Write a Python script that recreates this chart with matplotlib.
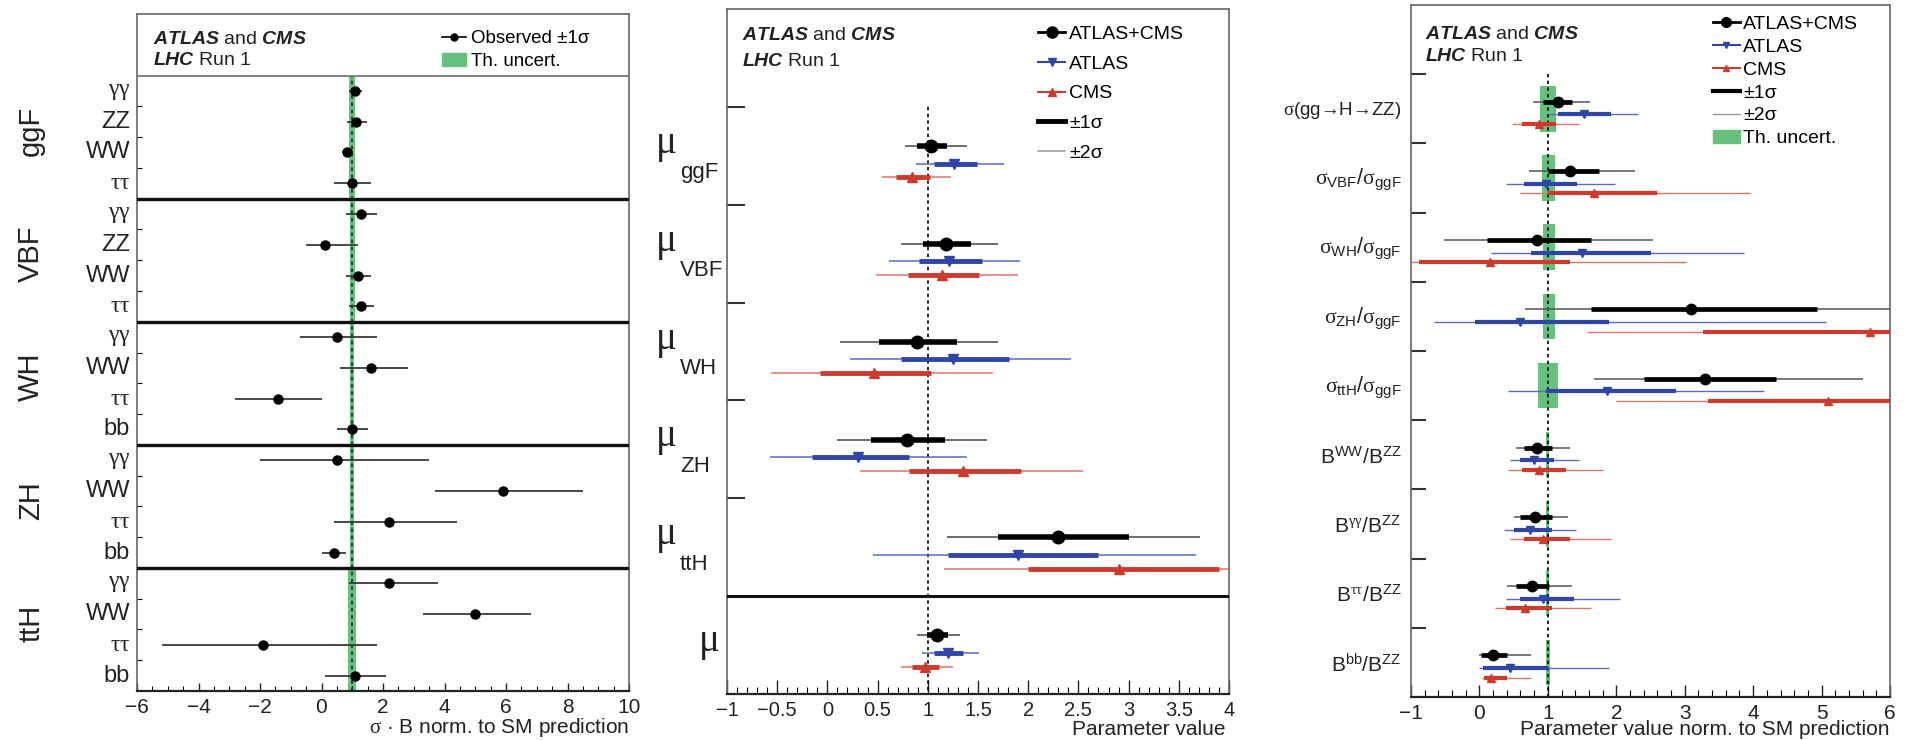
import numpy as np
import matplotlib
matplotlib.use("Agg")
import matplotlib.pyplot as plt
from matplotlib.ticker import MultipleLocator, FuncFormatter, FixedLocator
from matplotlib.lines import Line2D
from matplotlib.patches import Patch

plt.rcParams['font.family'] = ['Liberation Sans', 'DejaVu Sans']
plt.rcParams['mathtext.fontset'] = 'custom'
plt.rcParams['mathtext.rm'] = 'Liberation Serif'
plt.rcParams['mathtext.sf'] = 'Liberation Sans'
plt.rcParams['mathtext.it'] = 'Liberation Sans:italic'
plt.rcParams['mathtext.bf'] = 'Liberation Sans:bold'
plt.rcParams['mathtext.bfit'] = 'Liberation Sans:italic:bold'
plt.rcParams['mathtext.default'] = 'sf'

# ---- left panel: sigma x B per production mode and decay ----
prod_groups = ['ggF', 'VBF', 'WH', 'ZH', 'ttH']
decays = [r'$\mathrm{\gamma\gamma}$', 'ZZ', 'WW', r'$\mathrm{\tau\tau}$',
          r'$\mathrm{\gamma\gamma}$', 'ZZ', 'WW', r'$\mathrm{\tau\tau}$',
          r'$\mathrm{\gamma\gamma}$', 'WW', r'$\mathrm{\tau\tau}$', 'bb',
          r'$\mathrm{\gamma\gamma}$', 'WW', r'$\mathrm{\tau\tau}$', 'bb',
          r'$\mathrm{\gamma\gamma}$', 'WW', r'$\mathrm{\tau\tau}$', 'bb']
obs = [1.10, 1.13, 0.84, 1.0, 1.3, 0.1, 1.2, 1.3, 0.5, 1.6,
       -1.4, 1.0, 0.5, 5.9, 2.2, 0.4, 2.2, 5.0, -1.9, 1.1]
obs_up = [0.23, 0.34, 0.17, 0.6, 0.5, 1.1, 0.4, 0.4, 1.3, 1.2,
          1.4, 0.5, 3.0, 2.6, 2.2, 0.4, 1.6, 1.8, 3.7, 1.0]
obs_dn = [0.22, 0.31, 0.17, 0.6, 0.5, 0.6, 0.4, 0.4, 1.2, 1.0,
          1.4, 0.5, 2.5, 2.2, 1.8, 0.4, 1.3, 1.7, 3.3, 1.0]
th_half = [0.10, 0.09, 0.09, 0.10, 0.08, 0.08, 0.08, 0.08, 0.06, 0.06,
           0.06, 0.06, 0.07, 0.07, 0.07, 0.07, 0.13, 0.13, 0.13, 0.13]

# ---- middle panel: signal strengths ----
mu_names = ['ggF', 'VBF', 'WH', 'ZH', 'ttH', '']
comb_mu = [1.03, 1.18, 0.89, 0.79, 2.3, 1.09]
comb_1s = [(0.89, 1.19), (0.95, 1.43), (0.51, 1.29), (0.43, 1.17), (1.7, 3.0), (0.99, 1.20)]
comb_2s = [(0.77, 1.39), (0.73, 1.70), (0.13, 1.70), (0.10, 1.59), (1.19, 3.71), (0.89, 1.32)]
atlas_mu = [1.26, 1.21, 1.25, 0.30, 1.9, 1.20]
atlas_1s = [(1.06, 1.49), (0.91, 1.54), (0.73, 1.81), (-0.15, 0.81), (1.2, 2.7), (1.06, 1.35)]
atlas_2s = [(0.88, 1.76), (0.61, 1.92), (0.23, 2.43), (-0.57, 1.39), (0.45, 3.67), (0.94, 1.51)]
cms_mu = [0.84, 1.14, 0.46, 1.35, 2.9, 0.97]
cms_1s = [(0.68, 1.02), (0.80, 1.51), (-0.07, 1.03), (0.81, 1.93), (2.0, 3.9), (0.84, 1.11)]
cms_2s = [(0.54, 1.23), (0.48, 1.90), (-0.56, 1.65), (0.32, 2.55), (1.16, 4.9), (0.73, 1.25)]

# ---- right panel: ratios ----
ratio_labels = [r'$\mathrm{\sigma}$(gg→H→ZZ)',
                r'$\mathrm{\sigma}_{VBF}/\mathrm{\sigma}_{ggF}$',
                r'$\mathrm{\sigma}_{WH}/\mathrm{\sigma}_{ggF}$',
                r'$\mathrm{\sigma}_{ZH}/\mathrm{\sigma}_{ggF}$',
                r'$\mathrm{\sigma}_{ttH}/\mathrm{\sigma}_{ggF}$',
                r'$B^{WW}/B^{ZZ}$',
                r'$B^{\mathrm{\gamma\gamma}}/B^{ZZ}$',
                r'$B^{\mathrm{\tau\tau}}/B^{ZZ}$',
                r'$B^{bb}/B^{ZZ}$']
r_comb = [1.15, 1.32, 0.84, 3.09, 3.29, 0.84, 0.81, 0.77, 0.20]
r_comb_1s = [(0.93, 1.36), (1.0, 1.75), (0.11, 1.63), (1.63, 4.94), (2.41, 4.33),
             (0.65, 1.06), (0.59, 1.06), (0.53, 1.02), (0.02, 0.41)]
r_comb_2s = [(0.78, 1.62), (0.72, 2.28), (-0.52, 2.54), (0.66, 6.6), (1.68, 5.60),
             (0.53, 1.32), (0.50, 1.30), (0.41, 1.35), (0.0, 0.75)]
r_atlas = [1.53, 0.97, 1.50, 0.60, 1.87, 0.80, 0.74, 0.93, 0.45]
r_atlas_1s = [(1.15, 1.92), (0.65, 1.42), (0.75, 2.50), (-0.07, 1.90), (0.97, 2.87),
              (0.59, 1.09), (0.51, 1.06), (0.59, 1.38), (0.05, 1.0)]
r_atlas_2s = [(1.0, 2.32), (0.39, 1.98), (0.17, 3.86), (-0.67, 5.07), (0.42, 4.16),
              (0.45, 1.45), (0.36, 1.41), (0.39, 2.05), (0.0, 1.90)]
r_cms = [0.87, 1.68, 0.15, 5.71, 5.09, 0.87, 0.93, 0.66, 0.17]
r_cms_1s = [(0.62, 1.12), (1.0, 2.59), (-0.88, 1.33), (3.27, 7.5), (3.34, 7.0),
            (0.62, 1.27), (0.65, 1.33), (0.39, 1.06), (0.06, 0.41)]
r_cms_2s = [(0.47, 1.45), (0.59, 3.96), (-1.3, 3.02), (1.57, 9.0), (1.99, 9.0),
            (0.42, 1.81), (0.45, 1.92), (0.23, 1.63), (0.04, 0.75)]
r_th = [(0.88, 1.12), (0.91, 1.11), (0.93, 1.11), (0.93, 1.10), (0.86, 1.15),
        (0.98, 1.02), (0.98, 1.02), (0.98, 1.02), (0.97, 1.03)]

GREEN = '#66c17c'
BLUE, BLUE2 = '#2f45a8', '#5a6cc0'
RED, RED2 = '#cc3b2e', '#d8756c'
BLACK2 = '#555555'
W, H = 1916, 740


def num_fmt(v, pos):
    return ('%g' % v).replace('-', '\u2212')


def style_axes(ax):
    for s in ['top', 'left', 'right']:
        ax.spines[s].set_color('#666666')
        ax.spines[s].set_linewidth(1.2)
    ax.spines['bottom'].set_color('#222222')
    ax.spines['bottom'].set_linewidth(1.6)
    ax.xaxis.set_major_formatter(FuncFormatter(num_fmt))


def header(ax, x, y1, y2, fs=14):
    ax.text(x, y1, r'$\mathbfit{ATLAS}$ and $\mathbfit{CMS}$', transform=ax.transAxes,
            fontsize=fs, ha='left', va='center', color='#222222')
    ax.text(x, y2, r'$\mathbfit{LHC}$ Run 1', transform=ax.transAxes,
            fontsize=fs, ha='left', va='center', color='#222222')


def draw_series(ax, ys, vals, s1, s2, col, col2, marker, ms, lw1, lw2):
    lo1, hi1 = zip(*s1)
    lo2, hi2 = zip(*s2)
    ax.hlines(ys, lo2, hi2, color=col2, lw=lw2, zorder=3)
    ax.hlines(ys, lo1, hi1, color=col, lw=lw1, zorder=4)
    ax.plot(vals, ys, marker, color=col, ms=ms, ls='none', zorder=5)


fig = plt.figure(figsize=(W / 100, H / 100), dpi=100)
ax1 = fig.add_axes([137 / W, (H - 691) / H, (629 - 137) / W, (691 - 14) / H])
ax2 = fig.add_axes([727 / W, (H - 694) / H, (1229 - 727) / W, (694 - 9) / H])
ax3 = fig.add_axes([1411 / W, (H - 697) / H, (1890 - 1411) / W, (697 - 5) / H])

# ---------------- left panel ----------------
y1 = 19.5 - np.arange(len(obs))
ax1.set_xlim(-6, 10)
ax1.set_ylim(0, 22)
ax1.barh(y1, [2 * h for h in th_half], left=[1 - h for h in th_half], height=1.0,
         color=GREEN, zorder=1)
ax1.vlines(1, 0, 20, colors='#1b3b1b', linestyles=(0, (2, 2)), lw=1.3, zorder=2)
ax1.errorbar(obs, y1, xerr=[obs_dn, obs_up], fmt='o', color='k', ms=6.5,
             ecolor='#3a3a3a', elinewidth=1.3, capsize=0, zorder=4)
for yy in [4, 8, 12, 16]:
    ax1.axhline(yy, color='#111111', lw=2.4, zorder=5)
ax1.axhline(20, color='#777777', lw=1.3, zorder=5)
trans1 = ax1.get_yaxis_transform()
for yy, lab in zip(y1, decays):
    ax1.text(-0.014, yy, lab, transform=trans1, ha='right', va='center', fontsize=17,
             color='#222222')
for i, g in enumerate(prod_groups):
    ax1.text(-0.215, 18.2 - 4 * i, g, transform=trans1, ha='center', va='center',
             rotation=90, fontsize=21, color='#222222')
ax1.xaxis.set_major_locator(MultipleLocator(2))
ax1.xaxis.set_minor_locator(MultipleLocator(0.5))
ax1.yaxis.set_major_locator(FixedLocator([v for v in range(1, 20) if v % 4]))
ax1.tick_params(axis='x', which='major', direction='in', length=6, width=1,
                labelsize=15, pad=5, colors='#222222')
ax1.tick_params(axis='x', which='minor', direction='in', length=3.5, width=0.8)
ax1.tick_params(axis='y', which='major', direction='in', length=3.5, labelleft=False)
style_axes(ax1)
header(ax1, 0.033, 0.963, 0.932)
ax1.legend(handles=[Line2D([], [], color='k', marker='o', ms=5, lw=1.2),
                    Patch(color=GREEN)],
           labels=['Observed ±1σ', 'Th. uncert.'], loc='upper left',
           bbox_to_anchor=(0.62, 0.976), frameon=False, fontsize=13.5,
           handlelength=1.3, handletextpad=0.25, labelspacing=0.3,
           borderpad=0, borderaxespad=0)

# ---------------- middle panel ----------------
OFFS = (0.40, 0.58, 0.72)
slots2 = np.arange(1, len(comb_mu) + 1)
ax2.set_xlim(-1, 4)
ax2.set_ylim(7, 0)
ax2.vlines(1, 1, 7, colors='k', linestyles=(0, (2, 2)), lw=1.2, zorder=2)
ax2.axhline(6, color='#111111', lw=2.2, zorder=6)
draw_series(ax2, slots2 + OFFS[0], comb_mu, comb_1s, comb_2s, 'k', BLACK2, 'o', 9, 4.0, 1.2)
draw_series(ax2, slots2 + OFFS[1], atlas_mu, atlas_1s, atlas_2s, BLUE, BLUE2, 'v', 7, 3.5, 1.1)
draw_series(ax2, slots2 + OFFS[2], cms_mu, cms_1s, cms_2s, RED, RED2, '^', 7, 3.5, 1.1)
trans2 = ax2.get_yaxis_transform()
for s, name in zip(slots2, mu_names):
    if name:
        ax2.text(-0.142, s + 0.47, 'μ', transform=trans2, family='Liberation Serif',
                 fontsize=28, ha='left', va='baseline', color='#222222')
        ax2.text(-0.094, s + 0.73, name, transform=trans2, fontsize=16,
                 ha='left', va='baseline', color='#222222')
    else:
        ax2.text(-0.014, s + 0.56, 'μ', transform=trans2, family='Liberation Serif',
                 fontsize=28, ha='right', va='baseline', color='#222222')
ax2.xaxis.set_major_locator(MultipleLocator(0.5))
ax2.xaxis.set_minor_locator(MultipleLocator(0.1))
ax2.yaxis.set_major_locator(FixedLocator([1, 2, 3, 4, 5]))
ax2.tick_params(axis='x', which='major', direction='in', length=10, width=1,
                labelsize=14.5, pad=5, colors='#222222')
ax2.tick_params(axis='x', which='minor', direction='in', length=5, width=0.8)
ax2.tick_params(axis='y', which='major', direction='in', length=13, width=1.5,
                labelleft=False, color='#333333')
style_axes(ax2)
header(ax2, 0.03, 0.962, 0.923)
ax2.legend(handles=[Line2D([], [], color='k', marker='o', ms=8, lw=2),
                    Line2D([], [], color=BLUE, marker='v', ms=6, lw=1.5),
                    Line2D([], [], color=RED, marker='^', ms=6, lw=1.5),
                    Line2D([], [], color='k', lw=3.5),
                    Line2D([], [], color='#999999', lw=1.1)],
           labels=['ATLAS+CMS', 'ATLAS', 'CMS', '±1σ', '±2σ'], loc='upper left',
           bbox_to_anchor=(0.62, 0.976), frameon=False, fontsize=14,
           handlelength=1.4, handletextpad=0.2, labelspacing=0.62,
           borderpad=0, borderaxespad=0)

# ---------------- right panel ----------------
slots3 = np.arange(1, len(r_comb) + 1)
ax3.set_xlim(-1, 6)
ax3.set_ylim(10, 0)
th_lo, th_hi = zip(*r_th)
ax3.barh(slots3 + 0.5, np.subtract(th_hi, th_lo), left=th_lo, height=0.66,
         color=GREEN, zorder=1)
ax3.vlines(1, 1, 10, colors='k', linestyles=(0, (2, 2)), lw=1.2, zorder=2)
draw_series(ax3, slots3 + OFFS[0], r_comb, r_comb_1s, r_comb_2s, 'k', BLACK2, 'o', 7.5, 3.4, 1.1)
draw_series(ax3, slots3 + OFFS[1], r_atlas, r_atlas_1s, r_atlas_2s, BLUE, BLUE2, 'v', 6, 3.0, 1.0)
draw_series(ax3, slots3 + OFFS[2], r_cms, r_cms_1s, r_cms_2s, RED, RED2, '^', 6, 3.0, 1.0)
trans3 = ax3.get_yaxis_transform()
for s, lab in zip(slots3, ratio_labels):
    fs = 15 if lab.startswith('$B') else 15.5
    if '(gg' in lab:
        fs = 13.5
    ax3.text(-0.02, s + 0.53, lab, transform=trans3, ha='right', va='center',
             fontsize=fs, color='#222222')
ax3.xaxis.set_major_locator(MultipleLocator(1))
ax3.xaxis.set_minor_locator(MultipleLocator(0.2))
ax3.yaxis.set_major_locator(FixedLocator(list(range(1, 10))))
ax3.tick_params(axis='x', which='major', direction='in', length=9, width=1,
                labelsize=15, pad=5, colors='#222222')
ax3.tick_params(axis='x', which='minor', direction='in', length=5, width=0.8)
ax3.tick_params(axis='y', which='major', direction='in', length=11, width=1.5,
                labelleft=False, color='#333333')
style_axes(ax3)
header(ax3, 0.03, 0.957, 0.925)
ax3.legend(handles=[Line2D([], [], color='k', marker='o', ms=7, lw=2),
                    Line2D([], [], color=BLUE, marker='v', ms=5, lw=1.5),
                    Line2D([], [], color=RED, marker='^', ms=5, lw=1.5),
                    Line2D([], [], color='k', lw=3),
                    Line2D([], [], color='#999999', lw=1),
                    Patch(color=GREEN)],
           labels=['ATLAS+CMS', 'ATLAS', 'CMS', '±1σ', '±2σ', 'Th. uncert.'],
           loc='upper left', bbox_to_anchor=(0.63, 0.985), frameon=False,
           fontsize=14, handlelength=1.4, handletextpad=0.15, labelspacing=0.27,
           borderpad=0, borderaxespad=0)

# axis titles, ROOT style, right aligned along the bottom edge
fig.text(629 / W, 1 / H, r'$\mathrm{\sigma}$ · B norm. to SM prediction', ha='right',
         va='bottom', fontsize=15, color='#222222')
fig.text(1226 / W, 1 / H, 'Parameter value', ha='right', va='bottom',
         fontsize=15, color='#222222')
fig.text(1890 / W, 1 / H, 'Parameter value norm. to SM prediction', ha='right',
         va='bottom', fontsize=15, color='#222222')

fig.savefig('out.png', dpi=100)
